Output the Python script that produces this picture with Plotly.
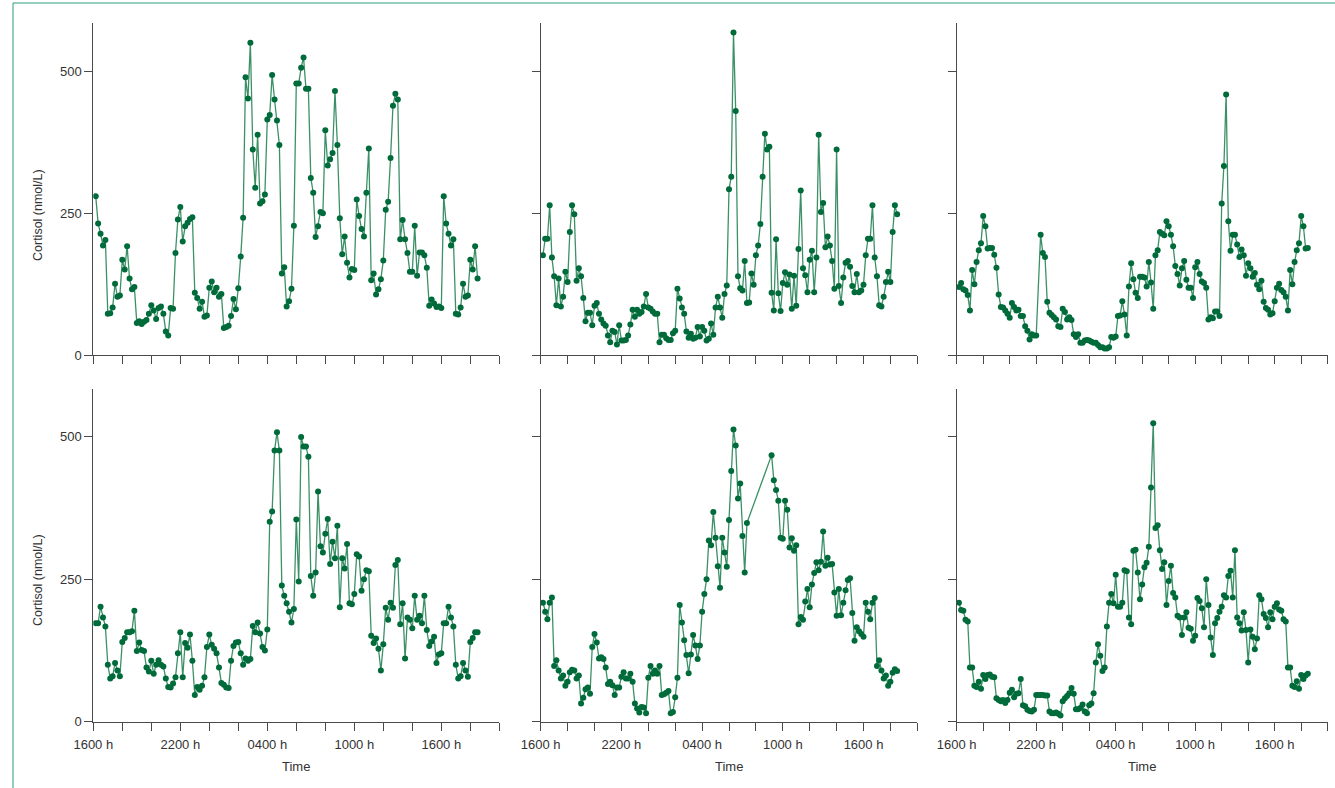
import plotly.graph_objects as go

W, H = 1335, 788

# Sampling: every 10 min, first sample 10 min after 1600 h
START_MIN = 10
STEP_MIN = 10

panel1 = [280, 232, 214, 193, 203, 73, 74, 84, 126, 103, 105, 168, 151, 192, 135, 116, 120, 57, 60, 55,
          59, 62, 73, 88, 79, 64, 83, 86, 73, 42, 35, 83, 82, 180, 239, 261, 200, 227, 233, 240,
          243, 110, 101, 82, 94, 68, 70, 119, 130, 111, 119, 103, 108, 48, 50, 52, 69, 99, 81, 118,
          174, 242, 489, 452, 550, 362, 295, 388, 267, 271, 283, 415, 423, 493, 450, 413, 370, 144, 155, 86,
          95, 117, 228, 478, 478, 506, 524, 469, 469, 312, 286, 208, 227, 252, 250, 396, 334, 345, 356, 465,
          370, 241, 178, 209, 163, 137, 152, 150, 274, 245, 222, 209, 286, 364, 132, 144, 107, 116, 134, 167,
          256, 270, 347, 439, 460, 450, 204, 238, 204, 180, 147, 147, 228, 140, 181, 181, 176, 154, 87, 98,
          91, 85, 86, 83, 280, 232, 214, 193, 204, 73, 72, 84, 126, 103, 105, 168, 151, 192, 135]

panel2 = [176, 205, 205, 264, 172, 139, 88, 135, 86, 103, 147, 129, 217, 264, 248, 131, 153, 139, 101, 60,
          75, 75, 53, 87, 92, 73, 63, 56, 52, 35, 23, 43, 41, 19, 53, 26, 26, 27, 35, 54,
          80, 68, 80, 73, 76, 86, 108, 84, 82, 77, 73, 73, 23, 36, 36, 30, 27, 27, 39, 43,
          117, 100, 84, 73, 42, 31, 38, 29, 31, 50, 33, 50, 43, 26, 29, 56, 36, 84, 103, 84,
          66, 108, 123, 292, 314, 568, 430, 139, 118, 114, 166, 92, 93, 144, 124, 176, 193, 231, 314, 390,
          362, 367, 110, 79, 204, 109, 78, 127, 146, 124, 142, 82, 140, 87, 187, 290, 153, 141, 111, 168,
          184, 111, 172, 388, 252, 268, 190, 209, 193, 166, 117, 362, 122, 92, 137, 163, 166, 156, 122, 111,
          143, 111, 114, 124, 176, 205, 205, 264, 172, 139, 88, 86, 103, 129, 147, 129, 217, 264, 248]

panel3 = [120, 127, 116, 114, 106, 79, 150, 125, 164, 185, 197, 245, 227, 188, 189, 189, 177, 154, 107, 85,
          84, 79, 73, 66, 92, 85, 79, 80, 69, 69, 51, 43, 28, 37, 35, 35, None, 212, 180, 173,
          94, 75, 71, 67, 63, 51, 50, 82, 76, 63, 67, 62, 37, 32, 37, 22, 22, 26, 27, 26,
          24, 22, 22, 18, 14, 14, 12, 12, 14, 32, 31, 33, 69, 70, 95, 72, 35, 121, 162, 134,
          110, 101, 138, 138, 137, 121, 164, 128, 82, 176, 185, 217, 214, 211, 236, 227, 212, 192, 157, 143,
          123, 153, 166, 133, 119, 119, 101, 155, 164, 143, 130, 127, 119, 63, 67, 65, 77, 77, 69, 267,
          333, 459, 236, 184, 212, 212, 195, 173, 186, 176, 140, 162, 153, 138, 145, 124, 116, 131, 94, 83,
          80, 72, 74, 95, 119, 126, 115, 111, 103, 79, 150, 125, 164, 185, 197, 245, 227, 188, 189]

panel4 = [173, 173, 202, 183, 167, 100, 76, 80, 103, 90, 80, 140, 147, 157, 157, 159, 195, 124, 139, 126,
          124, 95, 88, 107, 84, 100, 108, 100, 97, 76, 61, 60, 67, 78, 120, 157, 78, 138, 130, 153,
          107, 47, 61, 56, 63, 78, 131, 153, 135, 128, 120, 95, 68, 65, 60, 59, 107, 133, 139, 140,
          120, 100, 111, 107, 110, 168, 157, 174, 155, 131, 125, 162, 351, 369, 476, 508, 476, 239, 221, 208,
          193, 174, 198, 355, 246, 500, 483, 483, 465, 256, 221, 262, 404, 308, 297, 330, 356, 277, 316, 287,
          344, 201, 287, 269, 312, 208, 206, 224, 294, 290, 230, 250, 266, 264, 151, 138, 146, 128, 90, 136,
          200, 179, 209, 200, 275, 284, 171, 208, 111, 183, 179, 164, 221, 179, 186, 173, 221, 161, 133, 141,
          149, 103, 118, 120, 173, 173, 202, 183, 167, 100, 76, 80, 103, 90, 79, 140, 147, 157, 157]

panel5 = [209, 193, 180, 209, 218, 98, 108, 90, 76, 81, 63, 70, 87, 91, 90, 76, 81, 32, 42, 57,
          60, 49, 131, 154, 139, 111, 113, 110, 95, 66, 70, 64, 47, 60, 60, 79, 87, 76, 76, 84,
          70, 32, 23, 16, 26, 25, 15, 77, 98, 84, 90, 84, 98, 47, 48, 51, 54, 15, 17, 43,
          77, 205, 174, 143, 117, 85, 118, 152, 134, 110, 134, 193, 224, 250, 318, 310, 368, 323, 273, 235,
          323, 297, 272, 354, 440, 513, 485, 392, 418, 326, 262, 349,
          None, None, None, None, None, None, None, None, None, None,
          468, 424, 407, 388, 323, 321, 388, 372, 306, 322, 300, 310, 171, 184, 179, 211, 233, 201, 241, 261,
          280, 266, 281, 334, 274, 288, 276, 277, 227, 186, 233, 187, 209, 231, 249, 252, 191, 142, 166, 159,
          154, 149, 209, 193, 180, 209, 217, 98, 108, 90, 76, 81, 63, 70, 86, 92, 89]

panel6 = [209, 196, 195, 179, 176, 95, 95, 63, 61, 70, 58, 82, 75, 82, 83, 79, 78, 41, 38, 36,
          38, 33, 38, 51, 56, 43, 49, 50, 75, 29, 27, 21, 19, 18, 21, 47, 47, 47, 47, 46,
          46, 18, 15, 15, 16, 14, 11, 36, 41, 45, 50, 59, 49, 22, 22, 24, 30, 18, 15, 29,
          32, 50, 104, 136, 116, 89, 95, 167, 209, 224, 208, 258, 202, 202, 209, 266, 264, 183, 171, 300,
          302, 262, 215, 241, 271, 279, 307, 411, 524, 340, 345, 301, 268, 280, 205, 247, 274, 226, 218, 186,
          183, 152, 183, 192, 165, 163, 142, 151, 217, 212, 199, 166, 250, 205, 148, 117, 173, 182, 193, 202,
          222, 218, 256, 265, 218, 301, 183, 173, 160, 192, 161, 104, 162, 149, 127, 146, 222, 215, 189, 182,
          166, 192, 180, 202, 208, 197, 195, 180, 176, 95, 95, 63, 61, 71, 58, 82, 75, 81, 84]

panels = [panel1, panel2, panel3, panel4, panel5, panel6]

tick_hours = list(range(0, 29, 2))
tick_labels = {0: "1600 h", 6: "2200 h", 12: "0400 h", 18: "1000 h", 24: "1600 h"}
y_ticks = [0, 250, 500]

# layout geometry in pixels
col_px = [(93.3, 499.3), (540.7, 917.3), (956.7, 1327.7)]
row_px = [(22.8, 355.3), (388.5, 721.7)]

LINE_COL = "rgba(25,125,75,0.85)"
MARK_COL = "#006b3a"
AXIS_COL = "#4a4a4a"
FONT = "Liberation Sans, Arial, sans-serif"

fig = go.Figure()
for i, vals in enumerate(panels):
    k = i + 1
    t = [(START_MIN + j * STEP_MIN) / 60 for j in range(len(vals))]
    fig.add_trace(go.Scatter(
        x=t, y=vals, mode="lines+markers", connectgaps=True,
        line=dict(color=LINE_COL, width=1.3),
        marker=dict(color=MARK_COL, size=6),
        xaxis=f"x{k}" if k > 1 else "x", yaxis=f"y{k}" if k > 1 else "y",
        showlegend=False, hoverinfo="x+y"))

layout = dict(width=W, height=H, margin=dict(l=0, r=0, t=0, b=0, autoexpand=False),
              paper_bgcolor="white", plot_bgcolor="white",
              font=dict(family=FONT, size=13, color="#333333"))

for i in range(6):
    k = i + 1
    r, c = divmod(i, 3)
    x0, x1 = col_px[c]
    ytop, ybot = row_px[r]
    xa = "xaxis" if k == 1 else f"xaxis{k}"
    ya = "yaxis" if k == 1 else f"yaxis{k}"
    layout[xa] = dict(
        domain=[x0 / W, x1 / W], range=[0, 28], anchor=("y" if k == 1 else f"y{k}"),
        tickmode="array", tickvals=tick_hours,
        ticktext=[tick_labels.get(h, "") for h in tick_hours],
        showticklabels=(r == 1), ticks="outside", ticklen=8, tickwidth=1,
        tickcolor=AXIS_COL, showline=True, linecolor=AXIS_COL, linewidth=1,
        showgrid=False, zeroline=False, fixedrange=True, automargin=False,
        tickfont=dict(size=13), ticklabelstandoff=3,
    )
    layout[ya] = dict(
        domain=[1 - ybot / H, 1 - ytop / H], range=[0, 585], anchor=("x" if k == 1 else f"x{k}"),
        tickmode="array", tickvals=y_ticks, ticktext=[str(v) for v in y_ticks],
        showticklabels=(c == 0), ticks="outside", ticklen=8, tickwidth=1,
        tickcolor=AXIS_COL, showline=True, linecolor=AXIS_COL, linewidth=1,
        showgrid=False, zeroline=False, fixedrange=True, automargin=False,
        tickfont=dict(size=13),
    )

fig.update_layout(**layout)

# x titles "Time"
for c in range(3):
    x0, x1 = col_px[c]
    fig.add_annotation(text="Time", xref="paper", yref="paper",
                       x=(x0 + x1) / 2 / W, y=1 - 766 / H, xanchor="center", yanchor="middle",
                       showarrow=False, font=dict(size=13, color="#333333", family=FONT))

# y titles
for ycen in (215, 580):
    fig.add_annotation(text="Cortisol (nmol/L)", xref="paper", yref="paper",
                       x=38 / W, y=1 - ycen / H, xanchor="center", yanchor="middle",
                       textangle=-90, showarrow=False,
                       font=dict(size=12.5, color="#333333", family=FONT))

# teal figure frame (left and top)
FRAME = "#2c9c80"
fig.add_shape(type="line", xref="paper", yref="paper", x0=13 / W, x1=13 / W, y0=0, y1=1 - 3 / H,
              line=dict(color=FRAME, width=1))
fig.add_shape(type="line", xref="paper", yref="paper", x0=13 / W, x1=1, y0=1 - 3 / H, y1=1 - 3 / H,
              line=dict(color=FRAME, width=1))

fig.write_html("out.html", config={"displayModeBar": False},
               post_script="document.body.style.margin='0px';")
